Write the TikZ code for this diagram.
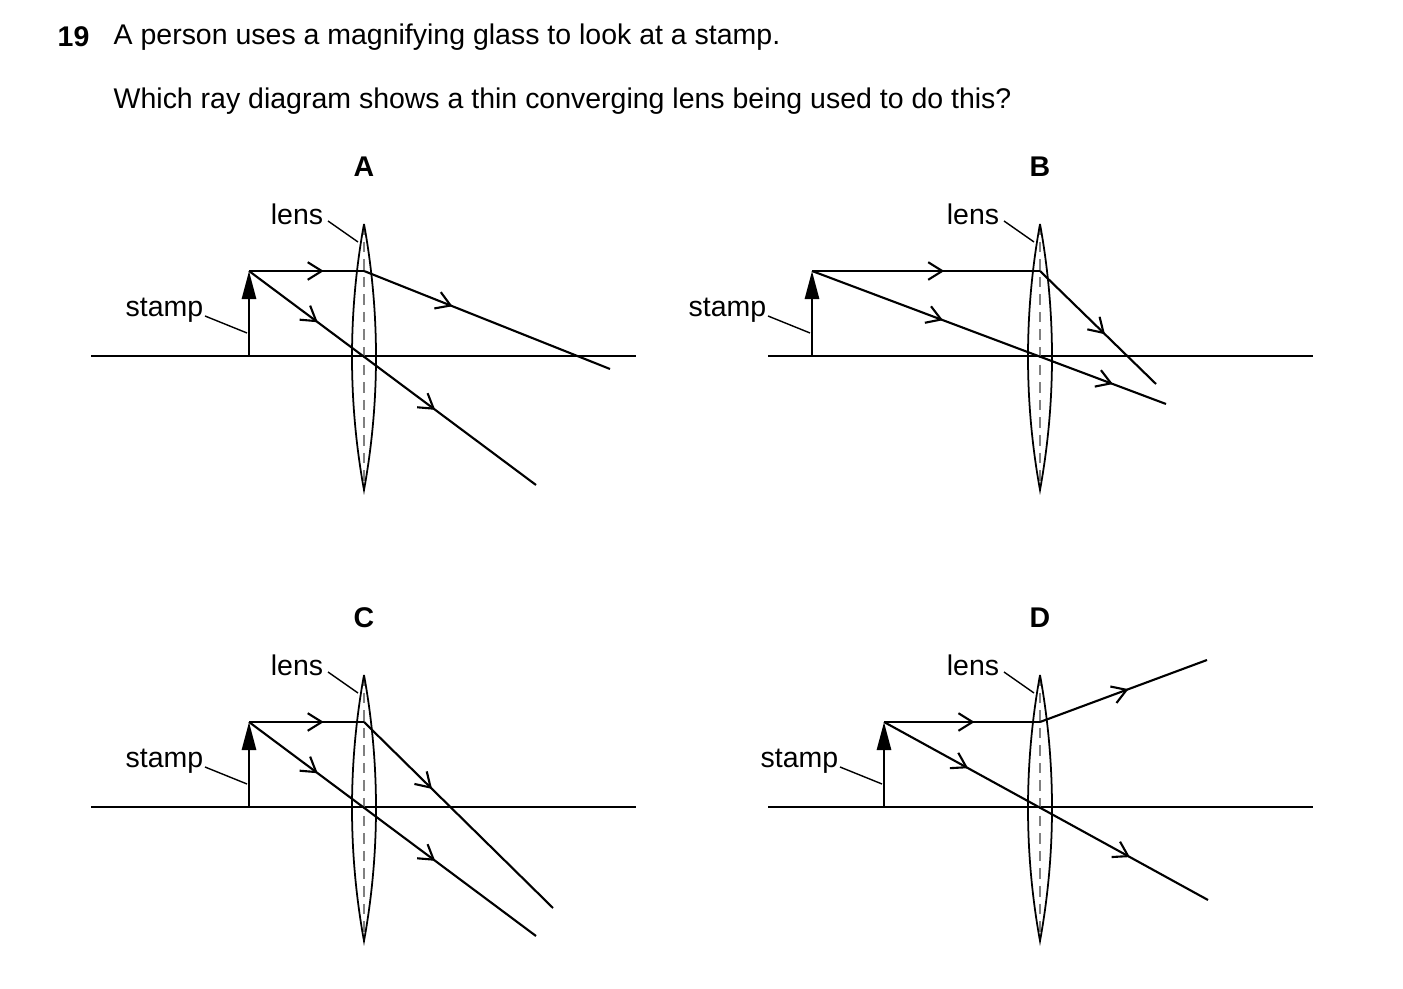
\documentclass[tikz,border=0pt]{standalone}
\usepackage{fontspec}
\setmainfont{Liberation Sans}
\usetikzlibrary{arrows.meta,decorations.markings}
\begin{document}
\begin{tikzpicture}[x=0.01cm,y=-0.01cm,
  ln/.style={line width=0.6pt},
  mk/.style={postaction={decorate},decoration={markings,mark=at position #1 with {\arrow{Straight Barb[length=4pt,width=5pt,line width=0.6pt]}}}},
  mk2/.style 2 args={postaction={decorate},decoration={markings,mark=at position #1 with {\arrow{Straight Barb[length=4pt,width=5pt,line width=0.6pt]}},mark=at position #2 with {\arrow{Straight Barb[length=4pt,width=5pt,line width=0.6pt]}}}},
  txt/.style={font=\fontsize{8.1pt}{9.5pt}\selectfont,inner sep=0pt},
  lbl/.style={font=\bfseries\fontsize{8.1pt}{9.5pt}\selectfont,inner sep=0pt}]
\useasboundingbox (0,0) rectangle (1403,989);
\node[lbl,anchor=west] (num) at (57,37) {19};
\node[txt,anchor=west] (q1) at (113,37) {A person uses a magnifying glass to look at a stamp.};
\node[txt,anchor=west] (q2) at (113,101) {Which ray diagram shows a thin converging lens being used to do this?};
\newcommand\lensfig[4]{% #1 shift, #2 letter, #3 axis left, #4 stamp x
 \begin{scope}[shift={#1}]
  \draw[ln] (#3,0) -- (#3+545,0);
  \draw[line width=0.3pt,dash pattern=on 3pt off 2pt,gray] (0,-132) -- (0,134);
  \draw[line width=0.5pt] (0,-132) .. controls (-16,-44) and (-16,46) .. (0,134) .. controls (16,46) and (16,-44) .. (0,-132);
  \draw[line width=0.8pt,-{Triangle[length=8pt,width=4pt]}] (#4,0) -- (#4,-85);
  \node[lbl] (L#2) at (0,-189) {#2};
  \node[txt] (lens#2) at (-67,-142) {lens};
  \draw[line width=0.4pt] (-36,-135) -- (-6,-114);
 \end{scope}}
\newcommand\stamplbl[3]{\begin{scope}[shift={#1}]
  \node[txt,anchor=east] (st#3) at (#2-45,-46) {stamp};
  \draw[line width=0.4pt] (#2-44,-40) -- (#2-2,-23);
 \end{scope}}
% A
\lensfig{(364,356)}{A}{-273}{-115}
\stamplbl{(364,356)}{-115}{A}
\begin{scope}[shift={(364,356)}]
 \draw[ln,mk=0.65] (-115,-85) -- (0,-85);
 \draw[ln,mk=0.36] (0,-85) -- (246,13);
 \draw[ln,mk2={0.24}{0.65}] (-115,-85) -- (172,129);
\end{scope}
% B
\lensfig{(1040,356)}{B}{-272}{-228}
\stamplbl{(1040,356)}{-228}{B}
\begin{scope}[shift={(1040,356)}]
 \draw[ln,mk=0.58] (-228,-85) -- (0,-85);
 \draw[ln,mk=0.56] (0,-85) -- (116,28);
 \draw[ln,mk2={0.37}{0.85}] (-228,-85) -- (126,48);
\end{scope}
% C
\lensfig{(364,807)}{C}{-273}{-115}
\stamplbl{(364,807)}{-115}{C}
\begin{scope}[shift={(364,807)}]
 \draw[ln,mk=0.65] (-115,-85) -- (0,-85);
 \draw[ln,mk=0.36] (0,-85) -- (189,101);
 \draw[ln,mk2={0.24}{0.65}] (-115,-85) -- (172,129);
\end{scope}
% D
\lensfig{(1040,807)}{D}{-272}{-156}
\stamplbl{(1040,807)}{-156}{D}
\begin{scope}[shift={(1040,807)}]
 \draw[ln,mk=0.58] (-156,-85) -- (0,-85);
 \draw[ln,mk=0.53] (0,-85) -- (167,-147);
 \draw[ln,mk2={0.26}{0.76}] (-156,-85) -- (168,93);
\end{scope}
\end{tikzpicture}
\end{document}
